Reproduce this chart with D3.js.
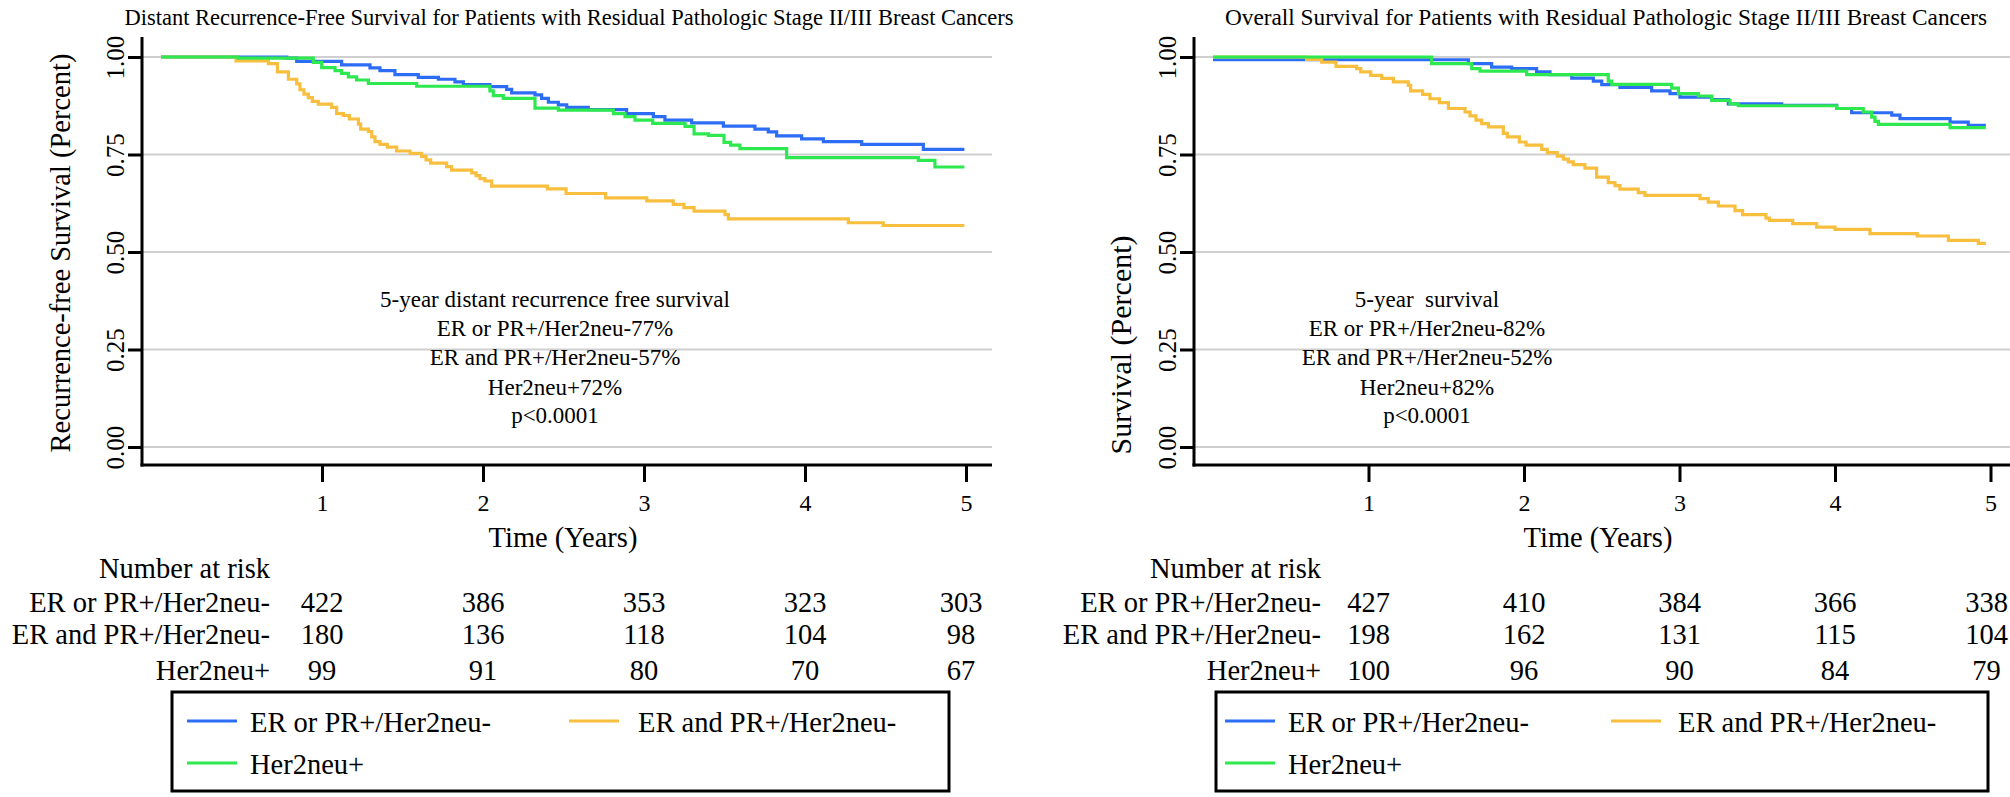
<!DOCTYPE html>
<html>
<head>
<meta charset="utf-8">
<script src="https://cdn.jsdelivr.net/npm/d3@7"></script>
<style>
  html,body{margin:0;padding:0;background:#fff;}
  svg{display:block;}
  svg text{font-family:"Liberation Serif","Times New Roman",serif !important;fill:#000;}
</style>
</head>
<body>
<svg id="chart" width="2010" height="797"></svg>
<script>
// ---------------- DATA ----------------
const seriesNames = ["ER or PR+/Her2neu-", "ER and PR+/Her2neu-", "Her2neu+"];
const riskTimes = [1, 2, 3, 4, 5];
const yTickValues = [0, 0.25, 0.5, 0.75, 1];
const xTickValues = [1, 2, 3, 4, 5];

// Distant recurrence-free survival, [years, survival]
const drfsBlue = [[0,1.0],[0.781,0.997],[0.843,0.989],[1.122,0.980],[1.298,0.972],[1.360,0.965],[1.453,0.955],[1.598,0.948],[1.723,0.943],[1.826,0.936],[1.878,0.929],[2.043,0.924],[2.147,0.917],[2.178,0.908],[2.323,0.903],[2.364,0.894],[2.406,0.884],[2.468,0.877],[2.520,0.871],[2.654,0.865],[2.892,0.855],[3.058,0.847],[3.130,0.838],[3.296,0.831],[3.493,0.823],[3.689,0.815],[3.772,0.808],[3.824,0.798],[3.979,0.790],[4.114,0.783],[4.352,0.776],[4.735,0.763],[4.99,0.763]];
const drfsOrange = [[0,1.0],[0.466,0.990],[0.667,0.983],[0.723,0.962],[0.791,0.943],[0.843,0.931],[0.863,0.916],[0.888,0.905],[0.915,0.896],[0.940,0.886],[0.977,0.879],[1.060,0.871],[1.091,0.855],[1.133,0.850],[1.170,0.841],[1.226,0.828],[1.240,0.815],[1.288,0.809],[1.309,0.795],[1.329,0.783],[1.360,0.776],[1.406,0.769],[1.464,0.759],[1.547,0.753],[1.619,0.745],[1.646,0.736],[1.675,0.728],[1.774,0.719],[1.805,0.710],[1.930,0.703],[1.957,0.696],[1.981,0.688],[2.012,0.682],[2.054,0.669],[2.400,0.662],[2.516,0.650],[2.762,0.639],[3.017,0.631],[3.182,0.622],[3.248,0.614],[3.311,0.605],[3.503,0.596],[3.524,0.585],[4.269,0.575],[4.486,0.568],[4.99,0.568]];
const drfsGreen = [[0,1.0],[0.478,0.997],[0.946,0.986],[0.998,0.973],[1.081,0.965],[1.122,0.958],[1.164,0.949],[1.215,0.941],[1.288,0.932],[1.588,0.925],[2.043,0.913],[2.064,0.901],[2.126,0.894],[2.323,0.869],[2.468,0.864],[2.810,0.855],[2.882,0.847],[2.944,0.838],[3.054,0.830],[3.255,0.822],[3.311,0.803],[3.400,0.799],[3.497,0.781],[3.538,0.774],[3.596,0.765],[3.886,0.742],[4.704,0.735],[4.807,0.718],[4.99,0.718]];

// Overall survival, [years, survival]
const osBlue = [[0,0.993],[1.642,0.983],[1.792,0.974],[1.921,0.970],[2.081,0.962],[2.167,0.955],[2.307,0.946],[2.446,0.938],[2.500,0.929],[2.617,0.922],[2.821,0.913],[2.939,0.906],[3.003,0.897],[3.207,0.891],[3.314,0.880],[3.657,0.876],[4.011,0.868],[4.107,0.857],[4.365,0.851],[4.418,0.842],[4.740,0.833],[4.857,0.825],[4.97,0.825]];
const osOrange = [[0,1.0],[0.602,0.994],[0.699,0.987],[0.791,0.976],[0.924,0.970],[0.950,0.962],[1.014,0.953],[1.085,0.945],[1.160,0.936],[1.256,0.927],[1.271,0.913],[1.348,0.904],[1.395,0.893],[1.456,0.883],[1.514,0.868],[1.621,0.859],[1.653,0.849],[1.691,0.838],[1.728,0.829],[1.771,0.821],[1.867,0.804],[1.893,0.795],[1.970,0.782],[2.013,0.774],[2.114,0.763],[2.150,0.755],[2.214,0.746],[2.253,0.738],[2.285,0.731],[2.317,0.724],[2.392,0.715],[2.467,0.692],[2.542,0.678],[2.585,0.670],[2.617,0.661],[2.735,0.652],[2.778,0.645],[3.132,0.637],[3.185,0.628],[3.250,0.618],[3.357,0.606],[3.406,0.596],[3.556,0.587],[3.578,0.581],[3.728,0.573],[3.882,0.564],[4.000,0.558],[4.225,0.547],[4.529,0.541],[4.729,0.530],[4.922,0.522],[4.97,0.522]];
const osGreen = [[0,1.0],[1.406,0.983],[1.664,0.970],[1.717,0.964],[2.017,0.955],[2.542,0.938],[2.564,0.930],[2.950,0.920],[2.993,0.906],[3.121,0.900],[3.207,0.889],[3.325,0.880],[3.378,0.875],[4.011,0.868],[4.182,0.859],[4.236,0.846],[4.257,0.835],[4.279,0.827],[4.740,0.819],[4.97,0.819]];

// Numbers at risk
const drfsRiskBlue = [422, 386, 353, 323, 303];
const drfsRiskOrange = [180, 136, 118, 104, 98];
const drfsRiskGreen = [99, 91, 80, 70, 67];
const osRiskBlue = [427, 410, 384, 366, 338];
const osRiskOrange = [198, 162, 131, 115, 104];
const osRiskGreen = [100, 96, 90, 84, 79];

// Annotations
const drfsNote = ["5-year distant recurrence free survival", "ER or PR+/Her2neu-77%", "ER and PR+/Her2neu-57%", "Her2neu+72%", "p<0.0001"];
const osNote = ["5-year\u00a0 survival", "ER or PR+/Her2neu-82%", "ER and PR+/Her2neu-52%", "Her2neu+82%", "p<0.0001"];

// ---------------- DRAWING ----------------
const colors = ["#2d6cf5", "#f8be3d", "#2ee84f"];
const FONT = '"Liberation Serif","Times New Roman",serif';
const svg = d3.select("#chart");

function panel(cfg) {
  const g = svg.append("g").style("font-family", FONT);
  const x = d3.scaleLinear().domain([0, 5]).range([cfg.x0, cfg.x5]);
  const y = d3.scaleLinear().domain([0, 1]).range([447, 57]);

  // gridlines
  g.append("g").selectAll("line").data(yTickValues).join("line")
    .attr("x1", cfg.axisX).attr("x2", cfg.right)
    .attr("y1", d => y(d)).attr("y2", d => y(d))
    .attr("stroke", "#cfcfcf").attr("stroke-width", 2);

  // title
  g.append("text").attr("x", cfg.titleX).attr("y", 25).attr("text-anchor", "middle")
    .style("font-size", cfg.titleSize + "px").text(cfg.title);

  // y axis
  const ya = g.append("g").attr("transform", `translate(${cfg.axisX},0)`)
    .call(d3.axisLeft(y).tickValues(yTickValues).tickFormat(d3.format(".2f")).tickSize(14).tickPadding(0));
  ya.attr("font-family", null);
  ya.select(".domain").remove();
  ya.selectAll(".tick line").attr("stroke", "#000").attr("stroke-width", 3);
  ya.selectAll(".tick text")
    .attr("x", null).attr("dy", null)
    .attr("transform", "translate(-24,0) rotate(-90)")
    .attr("text-anchor", "middle").attr("dominant-baseline", "middle")
    .style("font-size", "25px");

  // x axis
  const xa = g.append("g").attr("transform", "translate(0,465)")
    .call(d3.axisBottom(x).tickValues(xTickValues).tickFormat(d3.format("d")).tickSize(17).tickPadding(12));
  xa.attr("font-family", null);
  xa.select(".domain").remove();
  xa.selectAll(".tick line").attr("stroke", "#000").attr("stroke-width", 3);
  xa.selectAll(".tick text").style("font-size", "24px");

  // axis lines
  g.append("line").attr("x1", cfg.axisX).attr("x2", cfg.axisX).attr("y1", 37).attr("y2", 466.5)
    .attr("stroke", "#000").attr("stroke-width", 3);
  g.append("line").attr("x1", cfg.axisX - 1.5).attr("x2", cfg.right).attr("y1", 465).attr("y2", 465)
    .attr("stroke", "#000").attr("stroke-width", 3);

  // axis titles
  g.append("text").attr("transform", `translate(${cfg.yTitleX},${cfg.yTitleY}) rotate(-90)`)
    .attr("text-anchor", "middle").attr("dominant-baseline", "middle")
    .style("font-size", cfg.yTitleSize + "px").text(cfg.yTitle);
  g.append("text").attr("x", cfg.xTitleX).attr("y", 547).attr("text-anchor", "middle")
    .style("font-size", "28.5px").text("Time (Years)");

  // curves
  const line = d3.line().x(d => x(d[0])).y(d => y(d[1])).curve(d3.curveStepAfter);
  cfg.curves.forEach(c => {
    g.append("path").datum(c.data).attr("d", line)
      .attr("fill", "none").attr("stroke", c.color).attr("stroke-width", 3.2)
      .attr("stroke-linejoin", "miter");
  });

  // annotation
  g.append("g").selectAll("text").data(cfg.note).join("text")
    .attr("x", cfg.noteX).attr("y", (d, i) => [307, 336, 365, 395, 423][i])
    .attr("text-anchor", "middle").style("font-size", "23px").text(d => d);

  // number at risk
  g.append("text").attr("x", cfg.riskLabelX).attr("y", 578).attr("text-anchor", "end")
    .style("font-size", "28.5px").text("Number at risk");
  const rowY = [612, 644, 680];
  cfg.risk.forEach((row, i) => {
    g.append("text").attr("x", cfg.riskLabelX).attr("y", rowY[i]).attr("text-anchor", "end")
      .style("font-size", "28.5px").text(seriesNames[i]);
    g.append("g").selectAll("text").data(row).join("text")
      .attr("x", (d, j) => x(riskTimes[j]) + (j === 4 ? cfg.lastColShift : 0))
      .attr("y", rowY[i]).attr("text-anchor", "middle")
      .style("font-size", "28.5px").text(d => d);
  });

  // legend
  g.append("rect").attr("x", cfg.legX0).attr("y", 692).attr("width", cfg.legX1 - cfg.legX0).attr("height", 99)
    .attr("fill", "none").attr("stroke", "#000").attr("stroke-width", 3);
  const legItems = [
    {name: seriesNames[0], color: colors[0], sx: cfg.legS0, tx: cfg.legT0, yy: 721},
    {name: seriesNames[1], color: colors[1], sx: cfg.legS1, tx: cfg.legT1, yy: 721},
    {name: seriesNames[2], color: colors[2], sx: cfg.legS0, tx: cfg.legT0, yy: 763}
  ];
  legItems.forEach(it => {
    g.append("line").attr("x1", it.sx).attr("x2", it.sx + 50).attr("y1", it.yy).attr("y2", it.yy)
      .attr("stroke", it.color).attr("stroke-width", 3.2);
    g.append("text").attr("x", it.tx).attr("y", it.yy + 11).style("font-size", "28.5px").text(it.name);
  });
}

panel({
  title: "Distant Recurrence-Free Survival for Patients with Residual Pathologic Stage II/III Breast Cancers",
  titleX: 569, titleSize: 22.5, axisX: 142, right: 992, x0: 161, x5: 966,
  yTitle: "Recurrence-free Survival (Percent)", yTitleX: 63, yTitleY: 253, yTitleSize: 28.5, xTitleX: 563,
  curves: [{data: drfsBlue, color: colors[0]}, {data: drfsOrange, color: colors[1]}, {data: drfsGreen, color: colors[2]}],
  note: drfsNote, noteX: 555,
  risk: [drfsRiskBlue, drfsRiskOrange, drfsRiskGreen], riskLabelX: 270, lastColShift: -5,
  legX0: 172, legX1: 949, legS0: 187, legT0: 250, legS1: 569, legT1: 638
});

panel({
  title: "Overall Survival for Patients with Residual Pathologic Stage II/III Breast Cancers",
  titleX: 1606, titleSize: 23.3, axisX: 1194, right: 2010, x0: 1213, x5: 1990.5,
  yTitle: "Survival (Percent)", yTitleX: 1124, yTitleY: 345, yTitleSize: 30, xTitleX: 1598,
  curves: [{data: osBlue, color: colors[0]}, {data: osOrange, color: colors[1]}, {data: osGreen, color: colors[2]}],
  note: osNote, noteX: 1427,
  risk: [osRiskBlue, osRiskOrange, osRiskGreen], riskLabelX: 1321, lastColShift: -4,
  legX0: 1216, legX1: 1988, legS0: 1225, legT0: 1288, legS1: 1611, legT1: 1678
});
</script>
</body>
</html>
